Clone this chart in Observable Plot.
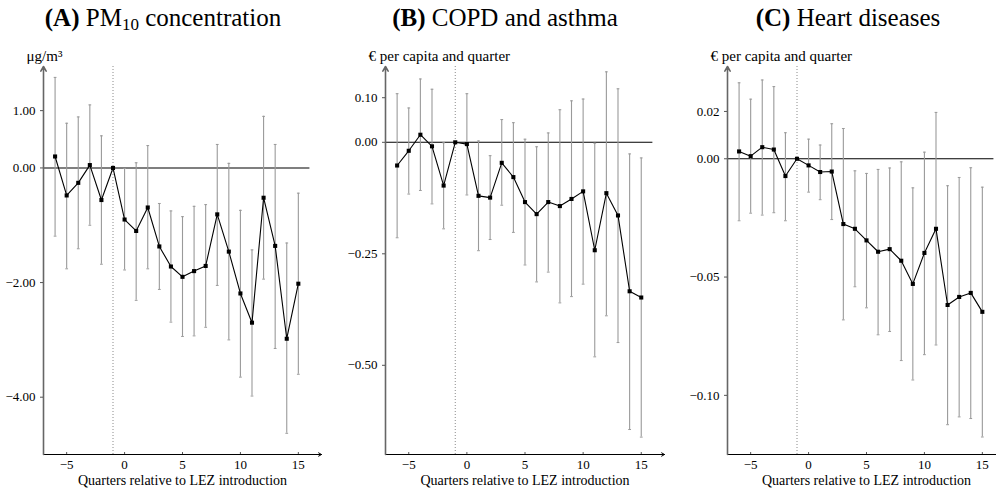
<!DOCTYPE html>
<html><head><meta charset="utf-8">
<script src="https://cdn.jsdelivr.net/npm/d3@7"></script>
<script src="https://cdn.jsdelivr.net/npm/@observablehq/plot@0.6"></script>
<style>
body{margin:0;overflow:hidden;background:#fff;}
#wrap{position:relative;width:996px;height:494px;overflow:hidden;font-family:'Liberation Serif';}
.title{position:absolute;top:3px;font-size:25px;white-space:nowrap;transform:translateX(-50%);color:#000;line-height:30px;font-family:'Liberation Serif';}
.title sub{font-size:0.68em;vertical-align:-0.25em;line-height:0;}
.panel{position:absolute;top:0;}
svg.panel, svg.panel text{font-family:'Liberation Serif' !important;}
</style></head><body>
<div id="wrap">
  <div class="title" style="left:163px"><b>(A)</b> PM<sub>10</sub> concentration</div>
  <div class="title" style="left:505px"><b>(B)</b> COPD and asthma</div>
  <div class="title" style="left:848px"><b>(C)</b> Heart diseases</div>
</div>
<script>
const quarters = [-6,-5,-4,-3,-2,-1,0,1,2,3,4,5,6,7,8,9,10,11,12,13,14,15];

const pmEst = [0.20,-0.48,-0.26,0.05,-0.56,0,-0.90,-1.10,-0.69,-1.37,-1.72,-1.90,-1.80,-1.71,-0.81,-1.46,-2.19,-2.70,-0.52,-1.36,-2.98,-2.02];
const pmHi  = [1.58,0.78,0.89,1.10,0.56,null,-0.01,0.09,0.39,-0.62,-0.75,-0.85,-0.67,-0.64,0.41,0.08,-0.74,-1.43,0.90,0.41,-1.31,-0.44];
const pmLo  = [-1.19,-1.76,-1.41,-1.00,-1.68,null,-1.78,-2.31,-1.76,-2.12,-2.69,-2.94,-2.93,-2.78,-2.05,-3.00,-3.65,-3.98,-1.94,-3.15,-4.63,-3.60];

const copdEst = [-0.052,-0.019,0.017,-0.009,-0.097,0,-0.004,-0.120,-0.124,-0.046,-0.078,-0.134,-0.161,-0.134,-0.143,-0.127,-0.110,-0.242,-0.114,-0.164,-0.334,-0.348];
const copdHi  = [0.109,0.077,0.142,0.119,-0.001,null,0.109,0.003,-0.030,0.051,0.044,0.007,-0.010,0.021,0.073,0.093,0.097,-0.002,0.158,0.120,-0.026,-0.035];
const copdLo  = [-0.214,-0.116,-0.108,-0.138,-0.194,null,-0.118,-0.243,-0.218,-0.141,-0.202,-0.275,-0.313,-0.291,-0.360,-0.346,-0.318,-0.481,-0.389,-0.449,-0.644,-0.661];

const heartEst = [0.0031,0.0011,0.0049,0.0039,-0.0073,0,-0.0028,-0.0056,-0.0054,-0.0276,-0.0296,-0.0345,-0.0393,-0.0382,-0.0431,-0.0529,-0.0398,-0.0296,-0.0618,-0.0584,-0.0567,-0.0647];
const heartHi  = [0.0321,0.0252,0.0333,0.0305,0.0110,null,0.0083,0.0058,0.0148,0.0128,-0.0051,-0.0062,-0.0045,-0.0039,-0.0013,-0.0123,0.0028,0.0196,-0.0114,-0.0079,-0.0038,-0.0120];
const heartLo  = [-0.0262,-0.0230,-0.0238,-0.0228,-0.0262,null,-0.0141,-0.0173,-0.0257,-0.0681,-0.0541,-0.0630,-0.0744,-0.0730,-0.0853,-0.0935,-0.0828,-0.0787,-0.1124,-0.1091,-0.1098,-0.1176];

const xDomain = [-7, 17];
const zeroLineEnd = 16;
const xTicks = [-5, 0, 5, 10, 15];
const xLabel = "Quarters relative to LEZ introduction";
const refQuarter = -1;

const pmTicks = [1, 0, -2, -4];
const copdTicks = [0.10, 0, -0.25, -0.50];
const heartTicks = [0.02, 0, -0.05, -0.10];

const pmDomain = [-5, 1.77];
const copdDomain = [-0.70, 0.17];
const heartDomain = [-0.125, 0.039];

const pmUnit = "\u03bcg/m\u00b3";
const euroUnit = "\u20ac per capita and quarter";

function rowsOf(est, lo, hi) {
  return quarters.map((q, i) => ({q, est: est[i], lo: lo[i], hi: hi[i]}));
}

function panel({est, lo, hi, yDomain, yTicks, fmt, yLabel, left, width, marginLeft}) {
  const rows = rowsOf(est, lo, hi);
  const bars = rows.filter(d => d.lo != null);
  const capW = 0.12;
  const p = Plot.plot({
    width, height: 494,
    marginLeft, marginRight: 2, marginTop: 66, marginBottom: 40,
    style: {fontFamily: "Liberation Serif", fontSize: "13px", background: "transparent", overflow: "visible", color: "black"},
    x: {domain: xDomain},
    y: {domain: yDomain},
    marks: [
      Plot.ruleX([refQuarter], {stroke: "#8a8a8a", strokeDasharray: "1,2", strokeWidth: 1}),
      Plot.ruleY([0], {x1: () => xDomain[0], x2: () => zeroLineEnd, stroke: "black", strokeWidth: 1.1}),
      Plot.ruleX(bars, {x: "q", y1: "lo", y2: "hi", stroke: "#9a9a9a", strokeWidth: 1.1}),
      Plot.link(bars, {x1: d => d.q - capW, x2: d => d.q + capW, y1: "hi", y2: "hi", stroke: "#9a9a9a"}),
      Plot.link(bars, {x1: d => d.q - capW, x2: d => d.q + capW, y1: "lo", y2: "lo", stroke: "#9a9a9a"}),
      Plot.line(rows, {x: "q", y: "est", stroke: "black", strokeWidth: 1.1}),
      Plot.dot(rows, {x: "q", y: "est", symbol: "square", r: 2.3, fill: "black", stroke: null}),
      Plot.arrow([0], {x1: () => xDomain[0], y1: () => yDomain[0], x2: () => xDomain[1], y2: () => yDomain[0], stroke: "black", headLength: 5, strokeWidth: 1}),
      Plot.arrow([0], {x1: () => xDomain[0], y1: () => yDomain[0], x2: () => xDomain[0], y2: () => yDomain[1], stroke: "#666", headLength: 5, strokeWidth: 1.6}),
      Plot.axisY({ticks: yTicks, tickFormat: fmt, tickSize: 3, tickPadding: 5, label: null, stroke: "#555", fill: "black"}),
      Plot.axisX({ticks: xTicks, tickFormat: d3.format("d"), tickSize: -2, tickPadding: 7, label: null, stroke: "#555", fill: "black"}),
      Plot.text([yLabel], {frameAnchor: "top-left", dx: -17, dy: -6, textAnchor: "start", lineAnchor: "bottom", fontSize: 15, fill: "black"}),
      Plot.text([xLabel], {frameAnchor: "bottom", dy: 30, fontSize: 14, fill: "black"})
    ]
  });
  p.classList.add("panel");
  p.style.left = left + "px";
  document.getElementById("wrap").appendChild(p);
}

panel({est: pmEst, lo: pmLo, hi: pmHi, yDomain: pmDomain, yTicks: pmTicks, fmt: d3.format(".2f"), yLabel: pmUnit, left: 0, width: 323, marginLeft: 43});
panel({est: copdEst, lo: copdLo, hi: copdHi, yDomain: copdDomain, yTicks: copdTicks, fmt: d3.format(".2f"), yLabel: euroUnit, left: 330, width: 336, marginLeft: 55});
panel({est: heartEst, lo: heartLo, hi: heartHi, yDomain: heartDomain, yTicks: heartTicks, fmt: d3.format(".2f"), yLabel: euroUnit, left: 660, width: 347, marginLeft: 67});
</script>
</body></html>
